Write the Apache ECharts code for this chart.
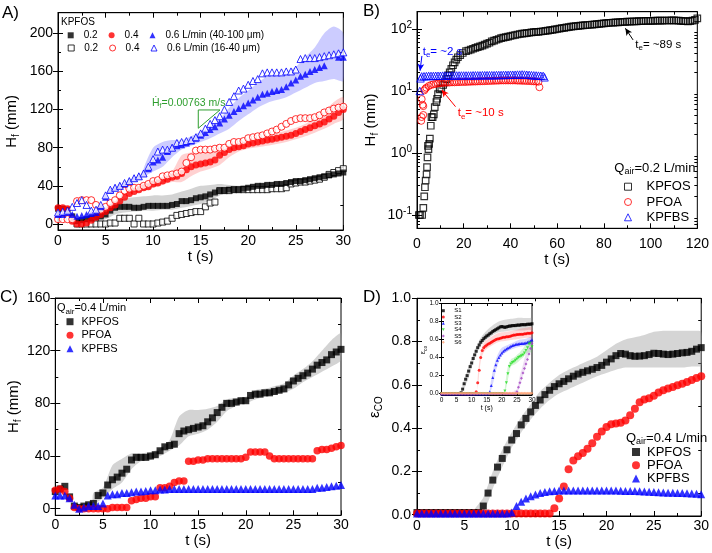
<!DOCTYPE html>
<html><head><meta charset="utf-8">
<script src="https://cdn.jsdelivr.net/npm/echarts@6/dist/echarts.min.js"></script>
<style>html,body{margin:0;padding:0;background:#fff}#c{width:712px;height:553px}</style>
</head><body><div id="c"></div>
<script>
// ---------------- DATA ----------------
const T30 = [0,0.5,1,1.5,2,2.5,3,3.5,4,4.5,5,5.5,6,6.5,7,7.5,8,8.5,9,9.5,10,10.5,11,11.5,12,12.5,13,13.5,14,14.5,15,15.5,16,16.5,17,17.5,18,18.5,19,19.5,20,20.5,21,21.5,22,22.5,23,23.5,24,24.5,25,25.5,26,26.5,27,27.5,28,28.5,29,29.5,30];

// Panel A (KPFOS, H_f in mm)
const A_02_FILLED = [16,16,15,8,3,4,5,6,7,8, 10,14,17,18,18,18,17,17,18,19, 19,19,19,19,20,21,24,24,25,27, 28,29,31,33,35,35,36,36,36,37, 38,39,40,40,41,41,42,42,43,44, 45,45,46,47,48,49,50,51,52,53, 54];
const A_02_OPEN = [null,null,null,null,0,0,0,0,0,0, 0,1,1,6,6,6,0,6,0,0, 0,1,2,3,6,9,10,11,12,13, 13,18,22,23,35,35,35,36,36,36, 36,36,36,36,36,37,37,37,38,42, 43,44,44,45,46,47,49,52,54,56, 58];
const A_04_FILLED = [17,17,16,3,0,0,1,4,7,10, 13,17,20,24,28,32,34,36,38,39, 42,43,45,47,49,50,53,57,60,62, 63,64,65,67,72,75,78,80,81,82, 84,85,86,87,88,89,90,91,92,93, 95,97,99,101,103,105,107,110,113,117, 120];
const A_04_OPEN = [5,5,5,5,24,25,25,25,20,15, 18,22,25,30,35,37,38,38,40,42, 45,46,50,51,52,53,55,64,70,77, 78,78,78,79,80,80,84,86,86,87, 90,91,92,93,95,97,99,102,105,108, 110,111,111,111,112,114,117,119,121,122, 123];
const A_06_FILLED = [10,10,12,10,8,9,10,11,12,18, 28,35,38,40,42,45,48,50,53,58, 65,67,70,76,80,82,83,85,87,90, 93,96,99,102,106,110,114,118,121,124, 127,130,133,136,137,139,140,141,144,148, 151,155,157,160,162,164,166,null,null,175, 175];
const A_06_OPEN = [12,13,14,18,22,25,20,14,15,20, 30,36,38,40,43,45,48,50,53,60, 68,76,78,78,80,85,86,87,88,91, 95,100,105,109,113,120,128,134,140,142, 146,150,152,158,159,159,159,159,160,160, 162,173,174,174,174,175,176,177,178,179, 180];
const A_BAND02_T = [4,5,6,7,8,9,10,11,12,13,14,15,16,17,18,19,20,22,24,26,28,30];
const A_BAND02_LO = [3,5,10,12,13,14,14,15,15,17,19,21,24,30,33,35,36,39,41,44,48,51];
const A_BAND02_HI = [10,18,24,27,28,29,30,30,31,34,37,40,41,42,41,40,41,43,45,48,53,57];
const A_BAND04_T = [9,10,11,12,13,14,15,16,17,18,19,20,22,24,26,28,29,30];
const A_BAND04_LO = [35,38,41,44,44,50,55,58,62,70,76,79,82,86,92,100,105,110];
const A_BAND04_HI = [42,46,50,55,72,75,75,75,80,83,86,89,93,98,105,118,128,133];
const A_BAND06_T = [9,10,11,12,13,14,15,16,17,18,19,20,21,22,23,24,25,26,27,28,29,30];
const A_BAND06_LO = [50,55,60,70,78,82,86,90,95,100,108,115,122,127,130,133,138,143,148,150,152,150];
const A_BAND06_HI = [58,80,86,88,88,92,97,103,110,122,132,140,148,155,158,160,165,175,185,200,207,200];
const A_SLOPE_T = [14.75,14.75,17.03,14.75];
const A_SLOPE_H = [100.4,119.6,119.6,100.4];
const A_LEGEND = ['0.2','0.4','0.6 L/min (40-100 \u03bcm)','\u200b0.2','\u200b0.4','0.6 L/min (16-40 \u03bcm)'];

// Panel B (Qair = 0.2 L/min, log scale)
const B_KPFOS_T = [0.8,1.3,2.2,2.7,3.1,3.4,3.7,4.1,4.3,4.5,4.7,4.9,5.2,5.5,5.9,6.2,6.7,7.2,7.6,8.3,8.6,9.0,9.7,10.4,11.2,11.9,12.6,13.3,14.0,14.7,15.4,16.1,16.8,17.5,18.5,19.6,
  21,22,23,24,25,26,27,28,29,30,31,32,33,34,35,36,37,38,39,40,41,42,43,44,45,46,47,48,49,50,51,52,53,54,55,56,57,58,59,60,
  61,62,63,64,65,66,67,68,69,70,71,72,73,74,75,76,77,78,79,80,81,82,83,84,85,86,87,88,89,90,91,92,93,94,95,96,97,98,99,100,
  101,102,103,104,105,106,107,108,109,110,111,112,113,114,115,116,117,118,119,120];
const B_KPFOS_H = [0.1,0.1,0.1,0.13,0.2,0.28,0.36,0.45,0.59,0.85,1.3,1.15,1.4,1.7,2.75,3.8,3.8,4.2,5.5,6.6,7.5,8.9,10.6,11,12.5,13.8,15.5,17.8,20,22.7,26,29,32,35,38,41,
  44,45,46.5,48,49.5,51,52.5,54,56,58, 60,63,65,67,69,71,72.5,74,75.5,77, 78.5,80,81.5,83,84,85,86,87,88,89, 89.5,90,91,92,93,94,95.5,97,98.5,100,
  101.5,103,104.5,106,107.5,109,110,111,112,113, 114,115,116,117,118,119,120,121,122,123, 124,125,126,127,127.5,128,129,130,130.5,131, 131.5,132,132.5,133,133.5,134,134.5,135,135,135,
  135.5,136,136,136,136.5,137,137,137,137.5,138, 137,136,135,134,133.5,133,134,136,140,148];
const B_PFOA_T = [1.8,2.0,2.0,2.4,2.7,2.7,3.1,3.5,4,5,6,7,8,9,10,11,12,13,14,15,16,17,18,19,20,21,22,23,24,25,26,27,28,29,30,31,32,33,34,35,36,37,38,39,40,41,42,43,44,45,46,47,48,49,50,51,52,52.4];
const B_PFOA_H = [3.3,3.8,7.4,6,5.7,4.1,10.2,10.8,11.3,12,12.5,12.8,13,13.2,13.4,13.5,13.6,13.7,13.7,13.8,13.8,13.9,13.9,14,14,14,14.1,14.1,14.2,14.2,14.3,14.3,14.4,14.4,14.5,14.5,14.6,14.6,14.7,14.7,14.8,14.8,14.8,14.8,14.8,14.8,14.8,14.7,14.7,14.6,14.6,14.5,14.5,14.4,14.3,14.2,14.1,11.5];
const B_KPFBS_T = [1.2,1.5,2,3,4,5,6,7,8,9,10,11,12,13,14,15,16,17,18,19,20,21,22,23,24,25,26,27,28,29,30,31,32,33,34,35,36,37,38,39,40,41,42,43,44,45,46,47,48,49,50,51,52,53,54,54.6];
const B_KPFBS_H = [10,16,17.2,17.3,17.4,17.5,17.5,17.5,17.6,17.6,17.6,17.7,17.7,17.7,17.7,17.8,17.8,17.8,17.8,17.8,17.8,17.8,17.8,17.8,17.9,17.9,17.9,17.9,18,18,18,18,18,18,18.1,18.1,18.1,18.2,18.2,18.2,18.3,18.3,18.3,18.4,18.4,18.5,18.4,18.3,18.2,18,17.9,17.8,17.7,17.6,17.5,16.6];
const B_MAJOR = [0.1,1,10,100];
const B_MINOR = [0.07,0.08,0.09,0.2,0.3,0.4,0.5,0.6,0.7,0.8,0.9,2,3,4,5,6,7,8,9,20,30,40,50,60,70,80,90];
const B_ARROWS = [ // [t_from, H_from, t_to, H_to, colour]
  [2.1,36.7,1.3,21.2,'#0000ff'],
  [16.5,5.58,10.6,10.4,'#ff0000'],
  [92.5,66.6,89.2,102.6,'#000000']
];

// Panel C (Qair = 0.4 L/min)
const C_KPFOS = [13,15,17,9,2,1,2,3,4,10, 12,18,22,24,27,30,37,39,39,39, 40,41,44,47,48,49,57,59,60,61, 62,63,66,69,73,77,80,80,81,82, 82,86,87,87,88,88,89,90,91,94, 97,99,101,103,106,109,111,113,117,119, 121];
const C_PFOA = [14,15,13,8,1,0,0,0,0,0, 0,0,1,1,1,1,6,7,8,8, 9,9,16,16,17,20,21,21,36,36, 37,37,38,38,38,38,38,38,38,38, 39,43,43,43,43,40,38,38,38,38, 38,38,38,38,38,44,45,45,46,47, 48];
const C_KPFBS = [10,10,10,8,3,0,1,2,2,2, 4,10,11,11,12,12,12.5,13,13,13.5, 14,14,14.5,14.5,15,15,15,15,15,15, 15,15,15,15,15,15,15,15,15,15, 15,15,15,15,15,15,15,15,15,15, 15,15,15,15,15,16,16,16.5,17,17.5, 18];
const C_BAND_T = [4,5,6,7,8,9,10,11,12,13,14,15,16,17,18,19,20,21,22,23,24,25,26,27,28,29,30];
const C_BAND_LO = [4,8,15,20,30,36,37,40,44,48,55,57,60,66,74,78,80,83,85,87,88,91,96,100,104,108,113];
const C_BAND_HI = [12,16,33,38,42,42,43,46,52,70,75,75,76,78,83,84,85,90,91,93,95,101,106,112,120,128,133];

// Panel D (epsilon_CO)
const D_KPFOS = [0.01,0.01,0.01,0.01,0.01,0.01,0.01,0.01,0.01,0.01,0.01,0.01,0.01,0.01,
  0.04,0.10,0.16,0.22,0.26,0.30,0.345,0.375,0.415,0.445,0.475,0.505,0.53,0.555,0.575,0.592,0.605,0.616,0.628,0.64,0.65,0.658,0.665,0.672,0.68,0.69,0.705,0.72,0.735,0.745,0.742,0.735,0.732,0.733,0.735,0.74,0.746,0.745,0.742,0.74,0.742,0.745,0.748,0.75,0.755,0.765,0.772];
const D_PFOA = [0.005,0.005,0.005,0.005,0.005,0.005,0.005,0.005,0.005,0.005,0.005,0.005,0.005,0.005,0.005,0.005,0.005,0.005,0.005,0.005,0.005,0.005,0.005,0.005,0.005,0.005,0.005,0.005,0.005,
  0.03,0.075,0.13,0.21,0.25,0.27,0.285,0.305,0.33,0.36,0.385,0.405,0.418,0.422,0.425,0.435,0.46,0.49,0.52,0.532,0.538,0.55,0.565,0.575,0.583,0.59,0.598,0.605,0.613,0.622,0.632,0.64];
const D_KPFBS = [0.005,0.005,0.005,0.005,0.005,0.005,0.005,0.005,0.005,0.005,0.005,0.005,0.005,0.005,0.005,0.005,0.005,0.005,0.005,0.005,
  0.01,0.04,0.06,0.075,0.085,0.093,0.1,0.105,0.108,0.11,
  0.112,0.112,0.112,0.112,0.112,0.112,0.112,0.112,0.112,0.112,0.112,0.112,0.112,
  0.111,0.11,0.11,0.109,0.108,0.107,0.106,0.105,0.104,0.103,0.102,0.101,0.1,0.1,0.099,0.098,0.097,0.095];
const D_BAND_T = [6,7,8,9,10,11,12,13,14,15,16,17,18,19,20,21,22,23,24,25,26,27,28,29,30];
const D_BAND_LO = [0,0.01,0.12,0.22,0.31,0.38,0.44,0.49,0.53,0.56,0.58,0.6,0.62,0.64,0.655,0.67,0.68,0.68,0.68,0.68,0.68,0.68,0.68,0.685,0.69];
const D_BAND_HI = [0.02,0.08,0.2,0.3,0.38,0.45,0.51,0.57,0.61,0.645,0.67,0.69,0.71,0.73,0.76,0.79,0.81,0.82,0.83,0.845,0.85,0.85,0.85,0.85,0.845];

// Inset (S1..S6)
const I_S1 = [0,0,0,0,0,0,0,0,0,0,0,0,0,
  0.01,0.05,0.11,0.16,0.2,0.25,0.3,0.34,0.39,0.43,0.47,0.51,0.54,0.57,0.59,0.61,0.625,0.64,0.65,0.665,0.675,0.69,0.7,0.71,0.72,0.73,0.74,0.745,0.74,0.735,0.74,0.745,0.75,0.75,0.755,0.755,0.755,0.76,0.76,0.76,0.765,0.765,0.765,0.765,0.77,0.77,0.77,0.775];
const I_S2 = [0,0,0,0,0,0,0,0,0,0,0,0,0,0,0,0,0,0,0,0,0,0,0,
  0.02,0.12,0.26,0.4,0.48,0.51,0.525,0.54,0.55,0.56,0.57,0.58,0.59,0.6,0.605,0.61,0.615,0.62,0.625,0.625,0.63,0.63,0.635,0.64,0.645,0.65,0.65,0.655,0.655,0.66,0.66,0.66,0.665,0.665,0.67,0.67,0.67,0.675];
const I_S3 = [0,0,0,0,0,0,0,0,0,0,0,0,0,0,0,0,0,0,0,0,0,0,0,0,0,0,0,0,0,0,0,0,
  0.02,0.09,0.18,0.26,0.32,0.37,0.4,0.43,0.45,0.47,0.485,0.495,0.505,0.515,0.525,0.535,0.54,0.545,0.55,0.55,0.555,0.555,0.56,0.56,0.565,0.57,0.575,0.585,0.595];
const I_S4 = [0,0,0,0,0,0,0,0,0,0,0,0,0,0,0,0,0,0,0,0,0,0,0,0,0,0,0,0,0,0,0,0,0,0,0,0,0,0,0,0,0,0,
  0.03,0.12,0.22,0.3,0.33,0.345,0.355,0.37,0.385,0.4,0.41,0.42,0.43,0.45,0.48,0.51,0.55,0.56,0.52];
const I_S5 = [0,0,0,0,0,0,0,0,0,0,0,0,0,0,0,0,0,0,0,0,0,0,0,0,0,0,0,0,0,0,0,0,0,0,0,0,0,0,0,0,0,0,0,0,0,0,0,0,0,0,
  0.02,0.07,0.12,0.17,0.23,0.28,0.33,0.38,0.44,0.5,0.56];
const I_S6 = [0.005,0.005,0.005,0.005,0.005,0.005,0.005,0.005,0.005,0.005,0.005,0.005,0.005,0.005,0.005,0.005,0.005,0.005,0.005,0.005,0.005,0.005,0.005,0.005,0.005,0.005,0.005,0.005,0.005,0.005,0.005,0.005,0.005,0.005,0.005,0.005,0.005,0.005,0.005,0.005,0.005,0.005,0.005,0.005,0.005,0.005,0.005,0.005,0.005,0.005,0.005,0.005,0.005,0.005,0.005,0.005,0.005,0.005,0.005,0.005,0.005];
const IB1_T = [7,9,11,13,15,17,19,21,23,25,27,29,30];
const IB1_LO = [0.02,0.18,0.39,0.53,0.6,0.65,0.68,0.69,0.7,0.7,0.7,0.71,0.71];
const IB1_HI = [0.1,0.3,0.48,0.62,0.7,0.76,0.8,0.82,0.83,0.84,0.84,0.84,0.84];
const IB2_T = [12,13,14,16,18,20,22,24,26,28,30];
const IB2_LO = [0.05,0.36,0.46,0.52,0.56,0.58,0.59,0.6,0.61,0.62,0.62];
const IB2_HI = [0.18,0.46,0.56,0.62,0.66,0.68,0.69,0.7,0.72,0.73,0.74];
const IB3_T = [16,17,18,19,20,22,24,26,28,30];
const IB3_LO = [0,0.1,0.25,0.35,0.42,0.47,0.5,0.52,0.53,0.55];
const IB3_HI = [0.05,0.25,0.38,0.46,0.51,0.54,0.57,0.6,0.61,0.63];
const IB4_T = [21,22,23,24,25,26,27,28,29,30];
const IB4_LO = [0,0.15,0.3,0.32,0.34,0.37,0.4,0.44,0.46,0.46];
const IB4_HI = [0.06,0.3,0.38,0.4,0.43,0.46,0.5,0.55,0.6,0.58];
const IB5_T = [24,25,26,27,28,29,30];
const IB5_LO = [0,0,0.08,0.2,0.3,0.42,0.5];
const IB5_HI = [0.03,0.05,0.2,0.32,0.45,0.55,0.65];

const TICKS_H_A = [0,40,80,120,160,200];
const MINOR_H_A = [20,60,100,140,180];
const TICKS_H_C = [0,40,80,120,160];
const MINOR_H_C = [20,60,100,140];
const TICKS_E = [0,0.2,0.4,0.6,0.8,1.0];
const MINOR_E = [0.1,0.3,0.5,0.7,0.9];

// ---------------- BUILD ----------------
const FONT = "'Liberation Sans', Arial, Helvetica, sans-serif";
const grids = [], xAxes = [], yAxes = [], series = [], legends = [], G = [];
const LS = {color:'#000', width:1};

function mRich(fs, color) {
  return {
    a:{fontSize:fs, fontFamily:FONT, color},
    s:{fontSize:Math.round(fs*0.68), fontFamily:FONT, color, padding:[Math.round(fs*0.5),0,0,0]},
    p:{fontSize:Math.round(fs*0.68), fontFamily:FONT, color, padding:[0,0,Math.round(fs*0.55),0]}
  };
}
function gRich(fs, fill) {
  return {
    a:{fontSize:fs, fontFamily:FONT, fill},
    s:{fontSize:Math.round(fs*0.7), fontFamily:FONT, fill, padding:[Math.round(fs*0.5),0,0,0]}
  };
}

function addPanel(g, xc, yc) {
  const gi = grids.length;
  grids.push({left:g.left, top:g.top, width:g.width, height:g.height, show:true, borderColor:'#000', borderWidth:1, backgroundColor:g.bg||'transparent'});
  const tl = xc.tick || 5;
  const xBase = {type:'value', gridIndex:gi, min:xc.min, max:xc.max, interval:xc.interval, splitLine:{show:false},
    axisLine:{show:true, onZero:false, lineStyle:LS},
    axisTick:{show:true, inside:true, length:tl, lineStyle:LS},
    minorTick:{show:xc.minor!==false, splitNumber:2, length:tl*0.6, lineStyle:LS}};
  const xi = xAxes.length;
  xAxes.push(Object.assign({}, xBase, {position:'bottom',
    axisLabel:{show:true, margin:xc.margin, color:'#000', fontSize:xc.fs, fontFamily:FONT},
    name:xc.name, nameLocation:'middle', nameGap:xc.nameGap,
    nameTextStyle:{color:'#000', fontSize:xc.nfs, fontFamily:FONT}}));
  xAxes.push(Object.assign({}, xBase, {position:'top', axisLabel:{show:false}}));
  const yi = yAxes.length;
  const ytl = yc.tick || 5;
  const nameOpt = yc.name ? {name:yc.name, nameLocation:'middle', nameGap:yc.nameGap, nameRotate:90,
      nameTextStyle:{color:'#000', fontSize:yc.nfs, fontFamily:FONT, rich:mRich(yc.nfs,'#000')}} : {};
  if (yc.log) {
    yAxes.push(Object.assign({type:'log', logBase:10, gridIndex:gi, position:'left', min:yc.min, max:yc.max,
      splitLine:{show:false}, axisLine:{show:true, onZero:false, lineStyle:LS}, axisTick:{show:false}, minorTick:{show:false},
      axisLabel:{show:true, showMinLabel:false, showMaxLabel:false, margin:yc.margin,
        formatter:function(v){ const l = Math.log10(v), e = Math.round(l); return Math.abs(l-e) < 1e-6 ? '{a|10}{p|'+e+'}' : ''; },
        rich:mRich(yc.fs,'#000')}}, nameOpt));
    const lmin = Math.log10(yc.min), lmax = Math.log10(yc.max);
    const tickAxis = (pos, vals, len) => ({type:'value', gridIndex:gi, position:pos, min:lmin, max:lmax,
      splitLine:{show:false}, axisLine:{show:false}, axisLabel:{show:false},
      axisTick:{show:true, inside:true, length:len, lineStyle:LS, customValues:vals.map(v=>Math.log10(v))}});
    yAxes.push(tickAxis('left', yc.major, ytl), tickAxis('right', yc.major, ytl),
               tickAxis('left', yc.minorVals, ytl*0.6), tickAxis('right', yc.minorVals, ytl*0.6));
  } else {
    yAxes.push(Object.assign({type:'value', gridIndex:gi, position:'left', min:yc.min, max:yc.max,
      splitLine:{show:false}, axisLine:{show:true, onZero:false, lineStyle:LS},
      axisTick:{show:true, inside:true, length:ytl, lineStyle:LS, customValues:yc.major},
      axisLabel:{show:true, margin:yc.margin, color:'#000', fontSize:yc.fs, fontFamily:FONT, customValues:yc.major, formatter:yc.fmt}}, nameOpt));
    const tickAxis = (pos, vals, len) => ({type:'value', gridIndex:gi, position:pos, min:yc.min, max:yc.max,
      splitLine:{show:false}, axisLine:{show:false}, axisLabel:{show:false},
      axisTick:{show:true, inside:true, length:len, lineStyle:LS, customValues:vals}});
    yAxes.push(tickAxis('right', yc.major, ytl));
    if (yc.minorVals) yAxes.push(tickAxis('left', yc.minorVals, ytl*0.6), tickAxis('right', yc.minorVals, ytl*0.6));
  }
  return {xi, yi};
}

function sc(name, tArr, vArr, o) {
  const data = [];
  for (let i = 0; i < tArr.length; i++) if (vArr[i] != null) data.push([tArr[i], vArr[i]]);
  series.push({type:'scatter', name, xAxisIndex:o.ax.xi, yAxisIndex:o.ax.yi, data, symbol:o.sym, symbolSize:o.size,
    z:o.z||3, silent:true, animation:false,
    itemStyle: o.open ? {color:o.fill||'#fff', borderColor:o.color, borderWidth:o.bw||1} : {color:o.color, borderWidth:0},
    markLine:o.markLine});
}
function band(tArr, lo, hi, color, ax) {
  series.push({type:'custom', xAxisIndex:ax.xi, yAxisIndex:ax.yi, silent:true, z:1, clip:true, animation:false,
    data:[[tArr[0], lo[0]]],
    renderItem:function(params, api){
      const pts = [];
      for (let i = 0; i < tArr.length; i++) pts.push(api.coord([tArr[i], hi[i]]));
      for (let i = tArr.length-1; i >= 0; i--) pts.push(api.coord([tArr[i], lo[i]]));
      return {type:'polygon', shape:{points:pts, smooth:0.25}, style:{fill:color}};
    }});
}
function txt(x, y, text, o) {
  o = o || {};
  G.push({type:'text', x, y, rotation:o.rot||0, z:100, silent:true,
    style:{text, fill:o.color||'#000', fontSize:o.fs||12, fontFamily:FONT, align:o.align||'left', verticalAlign:'middle',
      rich:o.rich||gRich(o.fs||12, o.color||'#000')}});
}
const DOWN_TRI = 'path://M0,0L10,0L5,9Z';
const fmt1 = v => v.toFixed(1);
const fmt0 = v => String(v);
const stripZW = n => n.replace(/\u200b/g,'');

// ---- Panel A ----
const axA = addPanel({left:58, top:12.7, width:285.3, height:217.3},
  {min:0, max:30, interval:5, margin:4, fs:14, name:'t (s)', nameGap:19, nfs:15},
  {min:-6.3, max:221.6, major:TICKS_H_A, minorVals:MINOR_H_A, margin:5, fs:14, fmt:fmt0, name:'{a|H}{s|f}{a| (mm)}', nameGap:37, nfs:15});
band(A_BAND02_T, A_BAND02_LO, A_BAND02_HI, 'rgba(150,150,150,0.42)', axA);
band(A_BAND04_T, A_BAND04_LO, A_BAND04_HI, 'rgba(255,90,90,0.28)', axA);
band(A_BAND06_T, A_BAND06_LO, A_BAND06_HI, 'rgba(100,100,255,0.33)', axA);
sc(A_LEGEND[3], T30, A_02_OPEN, {ax:axA, sym:'rect', size:6, color:'#000', open:true});
sc(A_LEGEND[0], T30, A_02_FILLED, {ax:axA, sym:'rect', size:6, color:'#000'});
sc(A_LEGEND[1], T30, A_04_FILLED, {ax:axA, sym:'circle', size:7, color:'#ff0000'});
sc(A_LEGEND[4], T30, A_04_OPEN, {ax:axA, sym:'circle', size:7, color:'#ff0000', open:true});
sc(A_LEGEND[2], T30, A_06_FILLED, {ax:axA, sym:'triangle', size:7, color:'#0000ff'});
sc(A_LEGEND[5], T30, A_06_OPEN, {ax:axA, sym:'triangle', size:7, color:'#0000ff', open:true});
series.push({type:'line', xAxisIndex:axA.xi, yAxisIndex:axA.yi, data:A_SLOPE_T.map((t,i)=>[t, A_SLOPE_H[i]]),
  showSymbol:false, symbol:'none', silent:true, z:5, lineStyle:{color:'#2e9e2e', width:1}, animation:false});
txt(61, 22, 'KPFOS', {fs:10});
txt(152, 103.3, '{a|\u1e22}{s|f}{a|=0.00763 m/s}', {fs:10.5, color:'#2e9e2e'});
const legStyleA = {selectedMode:false, orient:'horizontal', itemWidth:6, itemHeight:6, itemGap:11, padding:0,
  textStyle:{fontSize:10, fontFamily:FONT, color:'#000', padding:[0,0,0,5]}, formatter:stripZW};
legends.push(Object.assign({left:67.7, top:30.3, data:[
  {name:A_LEGEND[0], icon:'rect', itemStyle:{color:'#000', borderWidth:0}},
  {name:A_LEGEND[1], icon:'circle', itemStyle:{color:'#ff0000', borderWidth:0}},
  {name:A_LEGEND[2], icon:'triangle', itemStyle:{color:'#0000ff', borderWidth:0}}]}, legStyleA));
legends.push(Object.assign({left:67.7, top:43, data:[
  {name:A_LEGEND[3], icon:'rect', itemStyle:{color:'#fff', borderColor:'#000', borderWidth:1}},
  {name:A_LEGEND[4], icon:'circle', itemStyle:{color:'#fff', borderColor:'#ff0000', borderWidth:1}},
  {name:A_LEGEND[5], icon:'triangle', itemStyle:{color:'#fff', borderColor:'#0000ff', borderWidth:1}}]}, legStyleA));

// ---- Panel B ----
const axB = addPanel({left:417, top:11.7, width:283.3, height:216.6},
  {min:0, max:120, interval:20, margin:9, fs:14, name:'t (s)', nameGap:19, nfs:15},
  {log:true, min:0.061, max:190, major:B_MAJOR, minorVals:B_MINOR, margin:5, fs:14, name:'{a|H}{s|f}{a| (mm)}', nameGap:37, nfs:15});
const arrowML = (a) => ({silent:true, symbol:['none','arrow'], symbolSize:[5,7], label:{show:false},
  lineStyle:{color:a[4], width:1, type:'solid'}, data:[[{coord:[a[0],a[1]]},{coord:[a[2],a[3]]}]], animation:false});
sc('KPFOS', B_KPFOS_T, B_KPFOS_H, {ax:axB, sym:'rect', size:6.5, color:'#000', open:true, fill:'rgba(255,255,255,0)', bw:1.2, markLine:arrowML(B_ARROWS[2])});
sc('PFOA', B_PFOA_T, B_PFOA_H, {ax:axB, sym:'circle', size:7, color:'#ff0000', open:true, fill:'rgba(255,255,255,0)', markLine:arrowML(B_ARROWS[1])});
sc('KPFBS', B_KPFBS_T, B_KPFBS_H, {ax:axB, sym:'triangle', size:7.5, color:'#0000ff', open:true, fill:'rgba(255,255,255,0)', markLine:arrowML(B_ARROWS[0])});
txt(422.7, 51.7, '{a|t}{s|e}{a|= ~2 s}', {fs:11.5, color:'#0000ff'});
txt(457.7, 113.3, '{a|t}{s|e}{a|= ~10 s}', {fs:11.5, color:'#ff0000'});
txt(635.3, 45, '{a|t}{s|e}{a|= ~89 s}', {fs:11.5, color:'#000'});
txt(614.3, 168.3, '{a|Q}{s|air}{a|=0.2 L/min}', {fs:13});
legends.push({selectedMode:false, orient:'vertical', left:624, top:180.2, itemWidth:7, itemHeight:7, itemGap:2.3, padding:0,
  textStyle:{fontSize:13, fontFamily:FONT, color:'#000', padding:[0,0,0,10]}, formatter:stripZW, data:[
  {name:'KPFOS', icon:'rect', itemStyle:{color:'#fff', borderColor:'#000', borderWidth:1}},
  {name:'PFOA', icon:'circle', itemStyle:{color:'#fff', borderColor:'#ff0000', borderWidth:1}},
  {name:'KPFBS', icon:'triangle', itemStyle:{color:'#fff', borderColor:'#0000ff', borderWidth:1}}]});

// ---- Panel C ----
const axC = addPanel({left:55.3, top:298, width:285.7, height:217.3},
  {min:0, max:30, interval:5, margin:3, fs:14, name:'t (s)', nameGap:15, nfs:15},
  {min:-5, max:160, major:TICKS_H_C, minorVals:MINOR_H_C, margin:5, fs:14, fmt:fmt0, name:'{a|H}{s|f}{a| (mm)}', nameGap:32, nfs:15});
band(C_BAND_T, C_BAND_LO, C_BAND_HI, 'rgba(150,150,150,0.42)', axC);
sc('KPFOS\u200b', T30, C_KPFOS, {ax:axC, sym:'rect', size:7, color:'#000'});
sc('PFOA\u200b', T30, C_PFOA, {ax:axC, sym:'circle', size:7.5, color:'#ff0000'});
sc('KPFBS\u200b', T30, C_KPFBS, {ax:axC, sym:'triangle', size:8, color:'#0000ff'});
txt(57, 308.3, '{a|Q}{s|air}{a|=0.4 L/min}', {fs:11});
legends.push({selectedMode:false, orient:'vertical', left:66.5, top:316.2, itemWidth:7, itemHeight:7, itemGap:2.5, padding:0,
  textStyle:{fontSize:11, fontFamily:FONT, color:'#000', padding:[0,0,0,3]}, formatter:stripZW, data:[
  {name:'KPFOS\u200b', icon:'rect', itemStyle:{color:'#000'}},
  {name:'PFOA\u200b', icon:'circle', itemStyle:{color:'#ff0000'}},
  {name:'KPFBS\u200b', icon:'triangle', itemStyle:{color:'#0000ff'}}]});

// ---- Panel D ----
const axD = addPanel({left:417, top:298.3, width:286.7, height:217.7},
  {min:0, max:30, interval:5, margin:3, fs:14, name:'t (s)', nameGap:16, nfs:15},
  {min:-0.006, max:1.0, major:TICKS_E, minorVals:MINOR_E, margin:6, fs:14, fmt:fmt1, name:'{a|\u03b5}{s|CO}', nameGap:33, nfs:15});
band(D_BAND_T, D_BAND_LO, D_BAND_HI, 'rgba(150,150,150,0.4)', axD);
sc('KPFOS\u200b\u200b', T30, D_KPFOS, {ax:axD, sym:'rect', size:7, color:'#000'});
sc('PFOA\u200b\u200b', T30, D_PFOA, {ax:axD, sym:'circle', size:8, color:'#ff0000'});
sc('KPFBS\u200b\u200b', T30, D_KPFBS, {ax:axD, sym:'triangle', size:8, color:'#0000ff'});
txt(626, 438.3, '{a|Q}{s|air}{a|=0.4 L/min}', {fs:13});
legends.push({selectedMode:false, orient:'vertical', left:632, top:445.5, itemWidth:8, itemHeight:8, itemGap:0.2, padding:0,
  textStyle:{fontSize:13, fontFamily:FONT, color:'#000', padding:[0,0,0,2]}, formatter:stripZW, data:[
  {name:'KPFOS\u200b\u200b', icon:'rect', itemStyle:{color:'#000'}},
  {name:'PFOA\u200b\u200b', icon:'circle', itemStyle:{color:'#ff0000'}},
  {name:'KPFBS\u200b\u200b', icon:'triangle', itemStyle:{color:'#0000ff'}}]});

// ---- Inset ----
const axI = addPanel({left:441.5, top:303.5, width:90.5, height:91.5, bg:'#fff'},
  {min:0, max:30, interval:5, margin:2, fs:6.5, name:'t (s)', nameGap:7, nfs:7, tick:2.5, minor:false},
  {min:-0.015, max:1.0, major:TICKS_E, margin:3, fs:6.5, fmt:fmt1, tick:2.5});
band(IB1_T, IB1_LO, IB1_HI, 'rgba(150,150,150,0.35)', axI);
band(IB2_T, IB2_LO, IB2_HI, 'rgba(255,100,100,0.25)', axI);
band(IB3_T, IB3_LO, IB3_HI, 'rgba(100,100,255,0.25)', axI);
band(IB4_T, IB4_LO, IB4_HI, 'rgba(80,220,80,0.25)', axI);
band(IB5_T, IB5_LO, IB5_HI, 'rgba(170,90,200,0.2)', axI);
const I_COL = ['#000000','#ff0000','#0000ff','#22dd22','#a040c0','#ffa070'];
const I_SYM = ['rect','circle','triangle',DOWN_TRI,'diamond','diamond'];
[I_S1,I_S2,I_S3,I_S4,I_S5,I_S6].forEach((arr,k) => sc('S'+(k+1), T30, arr, {ax:axI, sym:I_SYM[k], size:3, color:I_COL[k], z:4}));
txt(423.5, 350, '{a|\u03b5}{s|co}', {fs:7, rot:Math.PI/2, align:'center'});
legends.push({selectedMode:false, orient:'vertical', left:441.8, top:307.7, itemWidth:3, itemHeight:3, itemGap:0.3, padding:0,
  textStyle:{fontSize:6, fontFamily:FONT, color:'#000', padding:[0,0,0,4.5]}, formatter:stripZW,
  data:['S1','S2','S3','S4','S5','S6'].map((n,k)=>({name:n, icon:I_SYM[k], itemStyle:{color:I_COL[k]}}))});

// ---- Panel letters ----
txt(2, 13, 'A)', {fs:17}); txt(363, 11, 'B)', {fs:17});
txt(0, 297, 'C)', {fs:17}); txt(363, 297.6, 'D)', {fs:17});

const option = {
  animation:false, backgroundColor:'#fff',
  textStyle:{fontFamily:FONT},
  grid:grids, xAxis:xAxes, yAxis:yAxes, series, legend:legends, graphic:{elements:G}
};
const chart = echarts.init(document.getElementById('c'), null, {renderer:'canvas', width:712, height:553});
chart.setOption(option);
</script></body></html>
